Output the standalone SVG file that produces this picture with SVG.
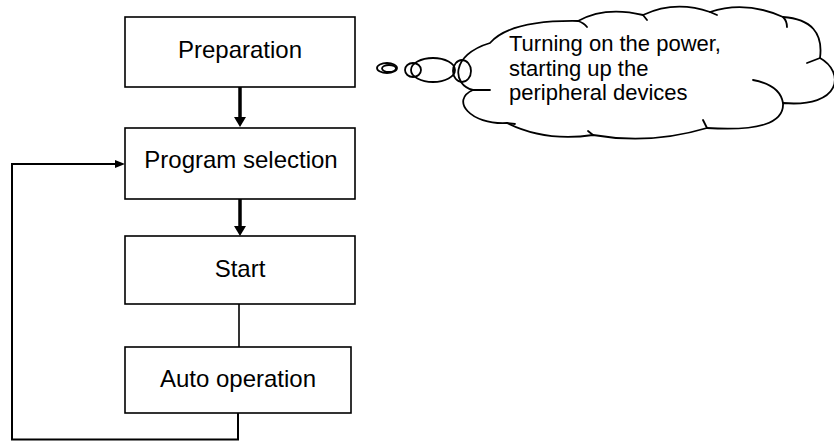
<svg xmlns="http://www.w3.org/2000/svg" width="834" height="441" viewBox="0 0 834 441">
<style>
.box{fill:#fff;stroke:#000;stroke-width:1.6}
.lbl{font-family:"Liberation Sans",Arial,sans-serif;font-size:24px;fill:#000;text-anchor:middle}
.note{font-family:"Liberation Sans",Arial,sans-serif;font-size:22px;fill:#000}
.thick{stroke:#000;stroke-width:3.5;fill:none}
.thin{stroke:#000;stroke-width:1.6;fill:none}
.loop{stroke:#000;stroke-width:2;fill:none}
.cloud{stroke:#000;stroke-width:1.8;fill:none;stroke-linejoin:round;stroke-linecap:round}
</style>
<defs>
<marker id="ah" viewBox="0 0 10 12" refX="5" refY="6" markerWidth="10" markerHeight="12" orient="auto" markerUnits="userSpaceOnUse"><path d="M0,0 L10,6 L0,12 z" fill="#000"/></marker>
<marker id="ahs" viewBox="0 0 10 8" refX="5" refY="4" markerWidth="10" markerHeight="8" orient="auto" markerUnits="userSpaceOnUse"><path d="M0,0 L10,4 L0,8 z" fill="#000"/></marker>
</defs>
<rect width="834" height="441" fill="#fff"/>
<g id="connectors">
<line class="thick" x1="240" y1="87" x2="240" y2="122" marker-end="url(#ah)"/>
<line class="thick" x1="240" y1="199" x2="240" y2="231" marker-end="url(#ah)"/>
<line class="thin" x1="239" y1="304" x2="239" y2="347"/>
<polyline class="loop" points="238,413 238,439.5 12,439.5 12,164 120,164" marker-end="url(#ahs)"/>
</g>
<g id="preparation">
<rect class="box" x="125" y="17" width="230" height="70"/>
<text class="lbl" x="240" y="58">Preparation</text>
</g>
<g id="program-selection">
<rect class="box" x="125" y="128" width="230" height="71"/>
<text class="lbl" x="241" y="168">Program selection</text>
</g>
<g id="start">
<rect class="box" x="125" y="236" width="230" height="68"/>
<text class="lbl" x="240" y="277">Start</text>
</g>
<g id="auto-operation">
<rect class="box" x="125" y="347" width="226" height="66"/>
<text class="lbl" x="238" y="387">Auto operation</text>
</g>
<g id="callout">
<ellipse class="cloud" cx="387" cy="68" rx="10" ry="5"/>
<ellipse class="cloud" cx="389" cy="68.5" rx="7" ry="3.5"/>
<ellipse class="cloud" cx="413" cy="70" rx="8" ry="7"/>
<ellipse class="cloud" cx="433" cy="70" rx="22" ry="12"/>
<ellipse class="cloud" cx="462" cy="71" rx="9" ry="11"/>
<path class="cloud" d="M490,43 Q510,20 578,21 Q605,6 643,15 Q675,0 710,12 Q745,0 783,17 Q825,20 820,58 C845,72 842,108 783,103 Q785,133 707,128 Q650,145 593,135 Q545,142 507,123 C470,125 450,100 473,90 C452,85 450,55 490,43 Z"/>
<path class="cloud" d="M578,21 Q584,23 587,27 M643,15 L647,20 M710,12 L717,15 M783,17 Q787,21 787,27 M820,58 L807,63 M783,103 Q780,85 753,80 M707,128 L703,120 M593,135 L588,131 M507,123 L515,124 M473,90 L490,90"/>
<text class="note" x="509" y="51">Turning on the power,</text>
<text class="note" x="509" y="76">starting up the</text>
<text class="note" x="509" y="100">peripheral devices</text>
</g>
</svg>
